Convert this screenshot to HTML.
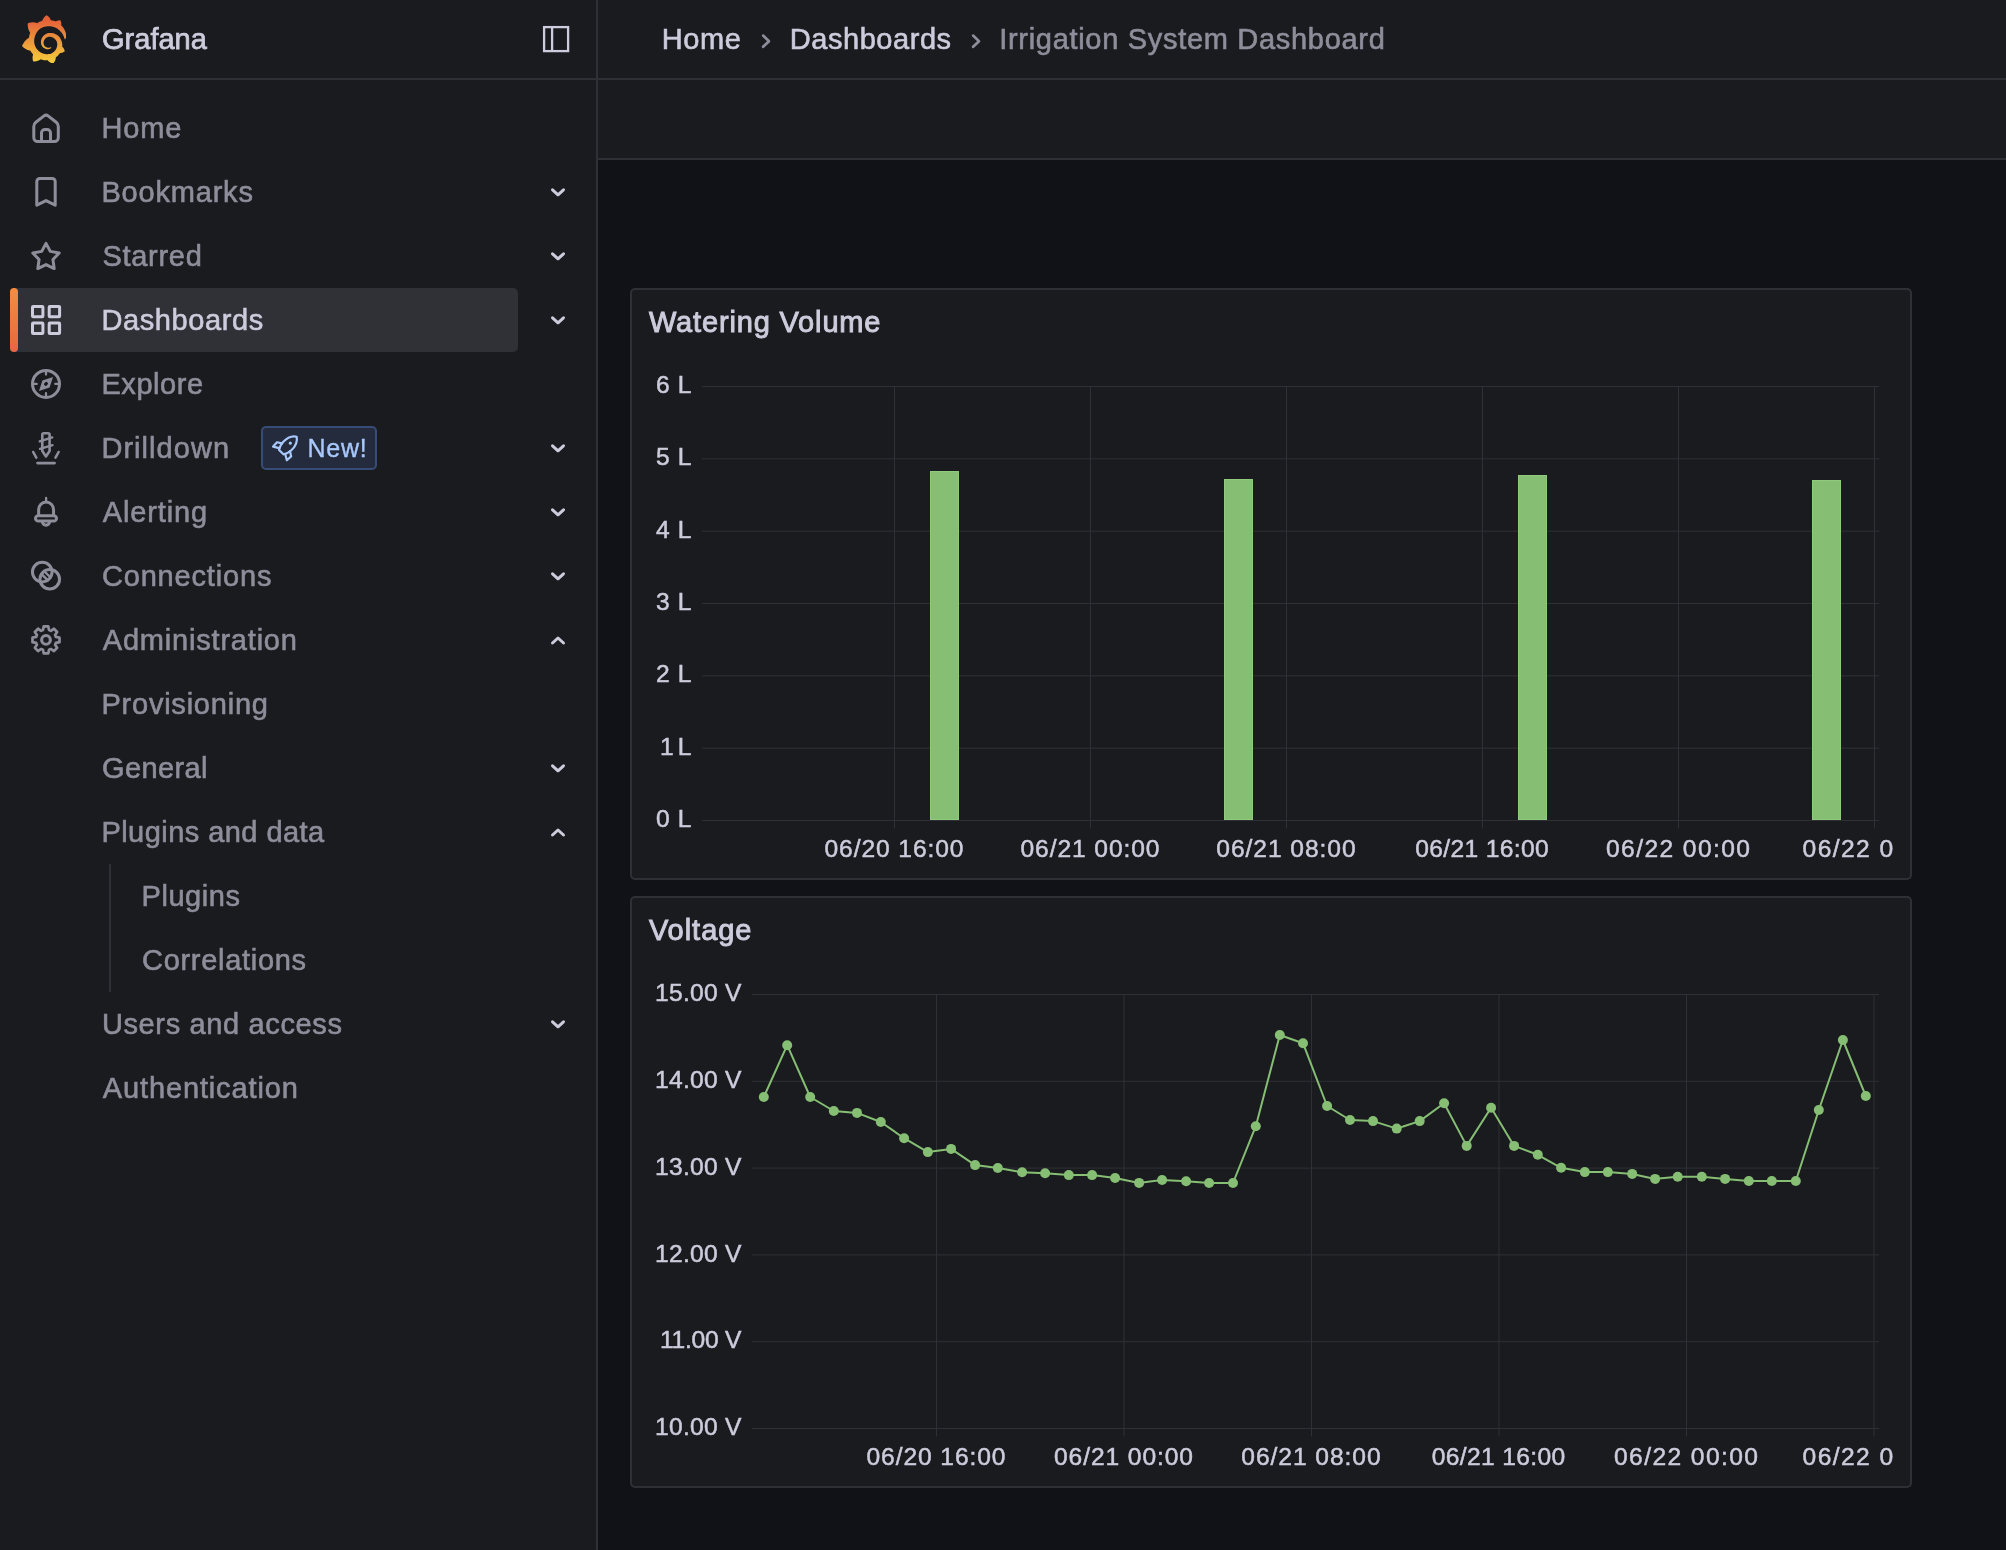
<!DOCTYPE html>
<html lang="en"><head><meta charset="utf-8"><title>Irrigation System Dashboard - Dashboards - Grafana</title>
<style>
html,body{margin:0;padding:0;}
body{width:2006px;height:1550px;overflow:hidden;position:relative;background:#111217;font-family:"Liberation Sans",sans-serif;}
.t{position:absolute;white-space:nowrap;margin:0;padding:0;font-weight:400;}
.ic{position:absolute;overflow:visible;}
.abs{position:absolute;}
#sidebar{position:absolute;left:0;top:0;width:596px;height:1550px;background:#1a1b1f;border-right:2px solid #2f3036;}
#topbar{position:absolute;left:598px;top:0;width:1408px;height:78px;background:#1a1b1f;}
#hline{position:absolute;left:0;top:78px;width:2006px;height:2px;background:#2f3036;}
#toolbar{position:absolute;left:598px;top:80px;width:1408px;height:78px;background:#1a1b1f;border-bottom:2px solid #2f3036;}
.panel{position:absolute;left:630px;width:1278px;height:588px;background:#1a1b1f;border:2px solid #2f3036;border-radius:5px;}
.active{position:absolute;left:10px;top:288px;width:508px;height:64px;background:#2f3137;border-radius:5px;}
.active:before{content:"";position:absolute;left:0;top:0;width:8px;height:64px;border-radius:4px;background:linear-gradient(180deg,#f28d45 0%,#e8663f 100%);}
.badge{position:absolute;left:261px;top:426px;width:112px;height:40px;border:2px solid #384c78;border-radius:5px;background:#232b3c;}
.sub{position:absolute;left:109px;top:864px;width:2px;height:128px;background:#2f3036;}
svg.chart{position:absolute;left:0;top:0;}
svg.chart .ax text{font-family:"Liberation Sans",sans-serif;font-size:24.6px;fill:#ccccdc;stroke:#ccccdc;stroke-width:0.5px;}
#app{position:absolute;left:0;top:0;width:2006px;height:1550px;will-change:transform;}
</style></head><body><div id="app">

<nav id="sidebar">
<div class="active"></div>
<svg class="abs" style="left:21.9px;top:14.85px" width="44.4" height="48.5" viewBox="0 0 342.2 374.3"><defs><linearGradient id="lg" x1="0" y1="0" x2="0" y2="1"><stop offset="0.1" stop-color="#e4613a"/><stop offset="1" stop-color="#f5cf3c"/></linearGradient></defs><path fill="url(#lg)" d="M342,161.2c-0.6-6.1-1.6-13.1-3.6-20.9c-2-7.7-5-16.2-9.4-25c-4.4-8.8-10.1-17.900-17.500-26.800c-2.900-3.500-6.100-6.900-9.500-10.200c5.100-20.300-6.200-37.900-6.200-37.900c-19.500-1.200-31.900,6.100-36.500,9.400c-0.800-0.300-1.500-0.700-2.300-1c-3.300-1.300-6.700-2.600-10.300-3.700c-3.500-1.100-7.100-2.100-10.800-3c-3.700-0.900-7.400-1.600-11.200-2.200c-0.700-0.100-1.300-0.200-2-0.300c-8.500-27.200-32.900-38.600-32.900-38.600c-27.300,17.300-32.400,41.500-32.400,41.500s-0.100,0.500-0.300,1.400c-1.500,0.400-3,0.900-4.500,1.300c-2.100,0.600-4.200,1.400-6.200,2.200c-2.100,0.800-4.100,1.600-6.200,2.500c-4.100,1.800-8.200,3.800-12.200,6c-3.900,2.200-7.700,4.600-11.400,7.100c-0.500-0.200-1-0.400-1-0.400c-37.800-14.400-71.300,2.900-71.300,2.900c-3.100,40.200,15.100,65.500,18.700,70.100c-0.900,2.500-1.700,5-2.500,7.500c-2.800,9.100-4.900,18.400-6.200,28.100c-0.200,1.400-0.400,2.800-0.500,4.200C18.800,192.700,0,238.300,0,238.300c29.100,33.500,63.100,35.600,63.100,35.600c0,0,0.100-0.100,0.100-0.100c4.300,7.700,9.300,15,14.900,21.900c2.400,2.900,4.800,5.600,7.400,8.300c-10.600,30.400,1.500,55.600,1.500,55.600c32.400,1.200,53.700-14.200,58.200-17.700c3.200,1.100,6.500,2.100,9.800,2.900c10,2.600,20.200,4.100,30.400,4.500c2.500,0.100,5.100,0.200,7.600,0.100l1.200,0l0.800,0l1.600,0l1.600-0.100l0,0.100c15.300,21.800,42.100,24.900,42.100,24.900c19.100-20.100,20.200-40.100,20.200-44.400l0,0c0,0,0-0.100,0-0.300c0-0.400,0-0.600,0-0.600l0,0c0-0.300,0-0.600,0-0.900c4-2.800,7.800-5.800,11.400-9.100c7.600-6.900,14.300-14.800,19.900-23.300c0.500-0.800,1-1.600,1.500-2.400c21.600,1.200,36.900-13.400,36.900-13.400c-3.600-22.500-16.400-33.500-19.100-35.600l0,0c0,0-0.100-0.100-0.300-0.200c-0.200-0.100-0.200-0.200-0.200-0.200c0,0,0,0,0,0c-0.100-0.100-0.300-0.200-0.500-0.300c0.100-1.400,0.200-2.700,0.300-4.100c0.200-2.400,0.200-4.900,0.200-7.300l0-1.800l0-0.900l0-0.500c0-0.600,0-0.400,0-0.600l-0.100-1.500l-0.100-2c0-0.700-0.100-1.300-0.200-1.900c-0.100-0.600-0.100-1.300-0.200-1.900l-0.200-1.900l-0.300-1.900c-0.400-2.500-0.800-4.900-1.400-7.400c-2.300-9.700-6.100-18.900-11-27.200c-5-8.300-11.200-15.600-18.300-21.800c-7-6.200-14.900-11.200-23.100-14.900c-8.300-3.700-16.900-6.100-25.500-7.200c-4.300-0.600-8.600-0.800-12.900-0.700l-1.600,0l-0.400,0c-0.100,0-0.600,0-0.500,0l-0.700,0l-1.600,0.100c-0.600,0-1.200,0.100-1.700,0.100c-2.200,0.200-4.400,0.500-6.500,0.900c-8.600,1.600-16.700,4.700-23.800,9c-7.100,4.300-13.300,9.600-18.300,15.600c-5,6-8.900,12.700-11.600,19.600c-2.700,6.900-4.200,14.100-4.600,21c-0.100,1.700-0.100,3.500-0.100,5.200c0,0.400,0,0.900,0,1.300l0.100,1.400c0.100,0.800,0.100,1.700,0.200,2.500c0.300,3.500,1,6.900,1.900,10.100c1.900,6.500,4.900,12.400,8.600,17.400c3.700,5,8.200,9.100,12.900,12.400c4.700,3.200,9.800,5.500,14.800,7c5,1.500,10,2.100,14.700,2.100c0.600,0,1.200,0,1.700,0c0.300,0,0.600,0,0.900,0c0.300,0,0.600,0,0.900-0.100c0.500,0,1-0.100,1.500-0.100c0.100,0,0.300,0,0.400-0.100l0.500-0.100c0.300,0,0.600-0.100,0.900-0.100c0.600-0.100,1.100-0.200,1.700-0.300c0.600-0.100,1.100-0.200,1.600-0.400c1.100-0.200,2.100-0.600,3.100-0.900c2-0.700,4-1.500,5.700-2.400c1.800-0.900,3.400-2,5-3c0.400-0.300,0.900-0.600,1.300-1c1.600-1.300,1.900-3.700,0.600-5.300c-1.100-1.400-3.100-1.800-4.700-0.900c-0.400,0.200-0.800,0.400-1.200,0.600c-1.400,0.700-2.800,1.300-4.300,1.800c-1.500,0.500-3.100,0.900-4.700,1.200c-0.800,0.100-1.600,0.200-2.500,0.300c-0.400,0-0.800,0.100-1.300,0.100c-0.400,0-0.900,0-1.200,0c-0.400,0-0.800,0-1.200,0c-0.500,0-1,0-1.500-0.100c0,0-0.300,0-0.100,0l-0.200,0l-0.300,0c-0.200,0-0.500,0-0.700-0.100c-0.500-0.100-0.900-0.100-1.400-0.200c-3.700-0.500-7.400-1.600-10.900-3.200c-3.600-1.600-7-3.800-10.100-6.600c-3.100-2.800-5.800-6.100-7.900-9.900c-2.100-3.800-3.600-8-4.300-12.400c-0.300-2.200-0.500-4.500-0.400-6.700c0-0.600,0.100-1.200,0.100-1.800c0,0.200,0-0.100,0-0.100l0-0.200l0-0.500c0-0.300,0.100-0.600,0.100-0.900c0.100-1.200,0.300-2.400,0.500-3.600c1.700-9.600,6.500-19,13.900-26.100c1.900-1.800,3.900-3.400,6-4.900c2.100-1.500,4.400-2.800,6.800-3.900c2.400-1.100,4.800-2,7.400-2.700c2.500-0.700,5.100-1.100,7.800-1.400c1.300-0.100,2.600-0.200,4-0.200c0.400,0,0.600,0,0.900,0l1.100,0l0.700,0c0.300,0,0,0,0.100,0l0.300,0l1.100,0.100c2.900,0.200,5.700,0.600,8.500,1.300c5.600,1.200,11.100,3.300,16.200,6.100c10.200,5.700,18.900,14.500,24.200,25.100c2.700,5.300,4.600,11,5.500,16.900c0.200,1.500,0.400,3,0.500,4.500l0.100,1.100l0.100,1.100c0,0.400,0,0.800,0,1.100c0,0.400,0,0.800,0,1.100l0,1l0,1.100c0,0.700-0.100,1.900-0.100,2.600c-0.100,1.600-0.300,3.300-0.500,4.900c-0.200,1.600-0.500,3.200-0.800,4.800c-0.300,1.600-0.700,3.200-1.100,4.700c-0.800,3.100-1.800,6.200-3,9.300c-2.400,6-5.600,11.800-9.400,17.100c-7.700,10.600-18.200,19.200-30.200,24.700c-6,2.700-12.300,4.700-18.800,5.700c-3.200,0.600-6.500,0.900-9.800,1l-0.600,0l-0.500,0l-1.100,0l-1.600,0l-0.800,0c0.400,0-0.100,0-0.100,0l-0.300,0c-1.800,0-3.500-0.100-5.300-0.300c-7-0.500-13.900-1.800-20.700-3.700c-6.700-1.900-13.200-4.600-19.400-7.800c-12.300-6.600-23.400-15.600-32-26.500c-4.300-5.400-8.100-11.300-11.200-17.400c-3.100-6.100-5.600-12.600-7.400-19.100c-1.800-6.600-2.900-13.300-3.400-20.100l-0.100-1.300l0-0.300l0-0.300l0-0.600l0-1.100l0-0.300l0-0.400l0-0.800l0-1.600l0-0.300c0,0,0,0.100,0-0.100l0-0.600c0-0.800,0-1.700,0-2.500c0.100-3.300,0.400-6.800,0.800-10.200c0.400-3.400,1-6.900,1.700-10.300c0.700-3.400,1.500-6.800,2.500-10.200c1.900-6.700,4.300-13.200,7.100-19.300c5.700-12.200,13.100-23.100,22-31.800c2.200-2.200,4.500-4.200,6.900-6.200c2.400-1.900,4.900-3.700,7.500-5.400c2.500-1.700,5.200-3.200,7.900-4.600c1.300-0.700,2.700-1.400,4.100-2c0.700-0.300,1.400-0.600,2.100-0.900c0.700-0.300,1.400-0.600,2.100-0.900c2.800-1.200,5.700-2.200,8.700-3.100c0.700-0.200,1.500-0.400,2.200-0.700c0.700-0.200,1.500-0.400,2.200-0.600c1.500-0.400,3-0.800,4.500-1.100c0.700-0.200,1.500-0.300,2.300-0.500c0.800-0.200,1.500-0.300,2.300-0.500c0.800-0.100,1.500-0.300,2.300-0.400l1.100-0.200l1.200-0.200c0.800-0.100,1.500-0.200,2.300-0.300c0.900-0.100,1.700-0.200,2.600-0.300c0.700-0.100,1.900-0.200,2.600-0.300c0.500-0.100,1.100-0.100,1.600-0.200l1.100-0.100l0.500-0.100l0.600,0c0.900-0.100,1.700-0.100,2.600-0.200l1.300-0.100c0,0,0.500,0,0.100,0l0.300,0l0.600,0c0.700,0,1.500-0.100,2.200-0.100c2.900-0.100,5.900-0.100,8.800,0c5.800,0.200,11.500,0.900,17,1.900c11.100,2.100,21.500,5.600,31,10.300c9.500,4.600,17.900,10.300,25.300,16.500c0.500,0.400,0.900,0.800,1.400,1.200c0.400,0.400,0.900,0.800,1.300,1.200c0.900,0.800,1.700,1.600,2.600,2.400c0.900,0.800,1.700,1.600,2.500,2.400c0.800,0.800,1.600,1.600,2.400,2.500c3.100,3.300,6,6.600,8.600,10c5.200,6.700,9.400,13.500,12.700,19.900c0.200,0.400,0.400,0.800,0.600,1.200c0.200,0.400,0.400,0.800,0.600,1.200c0.400,0.800,0.800,1.600,1.100,2.400c0.400,0.800,0.700,1.500,1.100,2.300c0.300,0.800,0.700,1.500,1,2.300c1.200,3,2.400,5.900,3.300,8.600c1.500,4.400,2.600,8.300,3.500,11.700c0.300,1.400,1.600,2.300,3,2.100c1.500-0.100,2.600-1.300,2.600-2.800C342.600,170.400,342.500,166.100,342,161.2z"/></svg>
<span class="t" style="left:102.02px;top:21.85px;font-size:29px;line-height:35px;letter-spacing:0.007px;color:#ccccdc;-webkit-text-stroke:0.75px #ccccdc;">Grafana</span>
<svg class="abs" style="left:540px;top:23px" width="32" height="32" viewBox="540 23 32 32" fill="none" stroke="#ccccdc" stroke-width="2.3"><rect x="544.1" y="27.1" width="24" height="24"/><path d="M552.1 27 V51"/></svg>
<svg class="ic" style="left:28px;top:110px" width="36" height="36" viewBox="0 0 36 36" fill="none" stroke="#8e8e9b" stroke-width="3" stroke-linecap="round" stroke-linejoin="round"><path d="M5.8 16.4 Q5.8 13.8 7.85 12.2 L16 5.9 Q18.05 4.3 20.1 5.9 L28.25 12.2 Q30.3 13.8 30.3 16.4 V27.5 a4 4 0 0 1 -4 4 H9.8 a4 4 0 0 1 -4 -4 Z"/><path d="M13.5 31.4 V22.9 a3.4 3.4 0 0 1 3.4-3.4 h2.2 a3.4 3.4 0 0 1 3.4 3.4 V31.4"/></svg>
<span class="t" style="left:101.43px;top:110.65px;font-size:29px;line-height:35px;letter-spacing:0.861px;color:#8e8e9b;-webkit-text-stroke:0.6px #8e8e9b;">Home</span>
<svg class="ic" style="left:28px;top:174px" width="36" height="36" viewBox="0 0 36 36" fill="none" stroke="#8e8e9b" stroke-width="3" stroke-linecap="round" stroke-linejoin="round"><path d="M8.8 31.2 V7.4 a3 3 0 0 1 3-3 H24.2 a3 3 0 0 1 3 3 V31.2 L18 26.6 Z"/></svg>
<span class="t" style="left:101.43px;top:174.65px;font-size:29px;line-height:35px;letter-spacing:0.804px;color:#8e8e9b;-webkit-text-stroke:0.6px #8e8e9b;">Bookmarks</span>
<svg class="ic" style="left:28px;top:238px" width="36" height="36" viewBox="0 0 36 36" fill="none" stroke="#8e8e9b" stroke-width="3" stroke-linecap="round" stroke-linejoin="round"><path d="M18.00,5.40 L22.29,13.39 L31.22,15.00 L24.94,21.56 L26.17,30.55 L18.00,26.60 L9.83,30.55 L11.06,21.56 L4.78,15.00 L13.71,13.39Z"/></svg>
<span class="t" style="left:102.39px;top:238.65px;font-size:29px;line-height:35px;letter-spacing:0.723px;color:#8e8e9b;-webkit-text-stroke:0.6px #8e8e9b;">Starred</span>
<svg class="ic" style="left:28px;top:302px" width="36" height="36" viewBox="0 0 36 36" fill="none" stroke="#ccccdc" stroke-width="3" stroke-linecap="round" stroke-linejoin="round"><rect x="4.5" y="4.4" width="10.4" height="10.4" rx="0.7"/><rect x="21.2" y="4.4" width="10.4" height="10.4" rx="0.7"/><rect x="4.5" y="21.1" width="10.4" height="10.4" rx="0.7"/><rect x="21.2" y="21.1" width="10.4" height="10.4" rx="0.7"/></svg>
<span class="t" style="left:101.43px;top:302.65px;font-size:29px;line-height:35px;letter-spacing:0.611px;color:#ccccdc;-webkit-text-stroke:0.6px #ccccdc;">Dashboards</span>
<svg class="ic" style="left:28px;top:366px" width="36" height="36" viewBox="0 0 36 36" fill="none" stroke="#8e8e9b" stroke-width="3" stroke-linecap="round" stroke-linejoin="round"><circle cx="18" cy="17.9" r="13.5"/><path stroke-width="2.3" d="M18 5 v3.6 M18 30.8 v-3.6 M5.1 17.9 h3.6 M30.9 17.9 h-3.6"/><path stroke="none" fill="#8e8e9b" fill-rule="evenodd" d="M25 10.9 L21.6 21.4 L11 24.9 L14.4 14.4 Z M19.3 16.6 a1.9 1.3 -45 1 0 -2.6 2.6 a1.9 1.3 -45 1 0 2.6 -2.6 Z"/></svg>
<span class="t" style="left:101.43px;top:366.65px;font-size:29px;line-height:35px;letter-spacing:0.569px;color:#8e8e9b;-webkit-text-stroke:0.6px #8e8e9b;">Explore</span>
<svg class="ic" style="left:28px;top:430px" width="36" height="36" viewBox="0 0 36 36" fill="none" stroke="#8e8e9b" stroke-width="3" stroke-linecap="round" stroke-linejoin="round"><path stroke-width="2.6" d="M14.3 21 V4.7 a1.5 1.5 0 0 1 1.5-1.5 h4.3 a1.5 1.5 0 0 1 1.5 1.5 V21 L17.95 26.5 Z"/><path stroke-width="2.3" d="M11.7 11.3 L24.3 7.4 M12 18.8 L24.5 15.1"/><path stroke-width="2.6" d="M5.2 22 L8.3 27.7 M30.6 22 L27.5 27.7 M9.5 33.1 H26.6"/></svg>
<span class="t" style="left:101.43px;top:430.65px;font-size:29px;line-height:35px;letter-spacing:1.042px;color:#8e8e9b;-webkit-text-stroke:0.6px #8e8e9b;">Drilldown</span>
<svg class="ic" style="left:28px;top:494px" width="36" height="36" viewBox="0 0 36 36" fill="none" stroke="#8e8e9b" stroke-width="3" stroke-linecap="round" stroke-linejoin="round"><path stroke-width="2.3" d="M18.1 4 V8"/><path d="M10.65 21.6 V15.5 a7.45 7.45 0 0 1 14.9 0 V21.6"/><rect x="7.5" y="21.7" width="21" height="5.4" rx="2.7"/><path d="M14.4 27.6 a3.6 3.6 0 0 0 7.2 0"/></svg>
<span class="t" style="left:102.80px;top:494.65px;font-size:29px;line-height:35px;letter-spacing:0.871px;color:#8e8e9b;-webkit-text-stroke:0.6px #8e8e9b;">Alerting</span>
<svg class="ic" style="left:28px;top:558px" width="36" height="36" viewBox="0 0 36 36" fill="none" stroke="#8e8e9b" stroke-width="3" stroke-linecap="round" stroke-linejoin="round"><circle cx="14.25" cy="14.1" r="9.8"/><circle cx="21.75" cy="21.25" r="9.8"/><path stroke-width="2.4" d="M16.4 13.3 L22.6 19.5 M13.6 16.1 L19.8 22.3"/></svg>
<span class="t" style="left:101.94px;top:558.65px;font-size:29px;line-height:35px;letter-spacing:0.825px;color:#8e8e9b;-webkit-text-stroke:0.6px #8e8e9b;">Connections</span>
<svg class="ic" style="left:28px;top:622px" width="36" height="36" viewBox="0 0 36 36" fill="none" stroke="#8e8e9b" stroke-width="3" stroke-linecap="round" stroke-linejoin="round"><path stroke-width="2.7" d="M14.99,8.05 L15.74,4.39 L20.26,4.39 L21.01,8.05 L22.84,8.81 L25.96,6.75 L29.15,9.94 L27.09,13.06 L27.85,14.89 L31.51,15.64 L31.51,20.16 L27.85,20.91 L27.09,22.74 L29.15,25.86 L25.96,29.05 L22.84,26.99 L21.01,27.75 L20.26,31.41 L15.74,31.41 L14.99,27.75 L13.16,26.99 L10.04,29.05 L6.85,25.86 L8.91,22.74 L8.15,20.91 L4.49,20.16 L4.49,15.64 L8.15,14.89 L8.91,13.06 L6.85,9.94 L10.04,6.75 L13.16,8.81Z"/><circle cx="18" cy="17.9" r="4.35" stroke-width="3.1"/></svg>
<span class="t" style="left:102.80px;top:622.65px;font-size:29px;line-height:35px;letter-spacing:0.799px;color:#8e8e9b;-webkit-text-stroke:0.6px #8e8e9b;">Administration</span>
<span class="t" style="left:101.43px;top:686.65px;font-size:29px;line-height:35px;letter-spacing:0.775px;color:#8e8e9b;-webkit-text-stroke:0.6px #8e8e9b;">Provisioning</span>
<span class="t" style="left:101.94px;top:750.65px;font-size:29px;line-height:35px;letter-spacing:0.400px;color:#8e8e9b;-webkit-text-stroke:0.6px #8e8e9b;">General</span>
<span class="t" style="left:101.43px;top:814.65px;font-size:29px;line-height:35px;letter-spacing:0.448px;color:#8e8e9b;-webkit-text-stroke:0.6px #8e8e9b;">Plugins and data</span>
<span class="t" style="left:141.53px;top:878.65px;font-size:29px;line-height:35px;letter-spacing:0.560px;color:#8e8e9b;-webkit-text-stroke:0.6px #8e8e9b;">Plugins</span>
<span class="t" style="left:142.04px;top:942.65px;font-size:29px;line-height:35px;letter-spacing:0.702px;color:#8e8e9b;-webkit-text-stroke:0.6px #8e8e9b;">Correlations</span>
<span class="t" style="left:101.89px;top:1006.65px;font-size:29px;line-height:35px;letter-spacing:0.642px;color:#8e8e9b;-webkit-text-stroke:0.6px #8e8e9b;">Users and access</span>
<span class="t" style="left:102.80px;top:1070.65px;font-size:29px;line-height:35px;letter-spacing:0.864px;color:#8e8e9b;-webkit-text-stroke:0.6px #8e8e9b;">Authentication</span>
<svg class="abs" style="left:0;top:0" width="596" height="1550" fill="none" stroke="#ccccdc" stroke-width="3" stroke-linecap="round" stroke-linejoin="round"><path d="M552.5 189.8 L558 194.8 L563.5 189.8"/><path d="M552.5 253.8 L558 258.8 L563.5 253.8"/><path d="M552.5 317.8 L558 322.8 L563.5 317.8"/><path d="M552.5 445.8 L558 450.8 L563.5 445.8"/><path d="M552.5 509.8 L558 514.8 L563.5 509.8"/><path d="M552.5 573.8 L558 578.8 L563.5 573.8"/><path d="M552.5 765.8 L558 770.8 L563.5 765.8"/><path d="M552.5 1021.8 L558 1026.8 L563.5 1021.8"/><path d="M552.5 643.0 L558 638.0 L563.5 643.0"/><path d="M552.5 835.0 L558 830.0 L563.5 835.0"/></svg>
<div class="badge"></div>
<svg class="abs" style="left:268px;top:430px" width="36" height="36" viewBox="268 430 36 36" fill="none" stroke="#a9c8fb" stroke-width="2.2" stroke-linecap="round" stroke-linejoin="round"><g transform="translate(287.9 445.5) rotate(45)"><path d="M0 -12.4 C4.4 -9.5 6 -4 5.8 1 C5.6 5 4.2 8 3.1 9.4 H-3.1 C-4.2 8 -5.6 5 -5.8 1 C-6 -4 -4.4 -9.5 0 -12.4 Z"/><path d="M-5.6 2.6 L-10 5.4 L-9.7 11.2 L-4.3 8 M5.6 2.6 L10 5.4 L9.7 11.2 L4.3 8"/><circle cx="0" cy="-3.4" r="1.6" fill="#a9c8fb" stroke="none"/></g></svg>
<span class="t" style="left:307.38px;top:432.54px;font-size:25px;line-height:30px;letter-spacing:0.779px;color:#a9c8fb;-webkit-text-stroke:0.35px #a9c8fb;">New!</span>
<div class="sub"></div>
</nav>
<header id="topbar"></header><div id="hline"></div><div id="toolbar"></div>
<span class="t" style="left:661.83px;top:21.85px;font-size:29px;line-height:35px;letter-spacing:0.595px;color:#ccccdc;-webkit-text-stroke:0.6px #ccccdc;">Home</span>
<span class="t" style="left:789.73px;top:21.85px;font-size:29px;line-height:35px;letter-spacing:0.556px;color:#ccccdc;-webkit-text-stroke:0.6px #ccccdc;">Dashboards</span>
<span class="t" style="left:999.23px;top:21.85px;font-size:29px;line-height:35px;letter-spacing:0.696px;color:#8e8e9b;-webkit-text-stroke:0.6px #8e8e9b;">Irrigation System Dashboard</span>
<svg class="abs" style="left:755px;top:28px" width="240" height="26" viewBox="755 28 240 26" fill="none" stroke="#8e8e9b" stroke-width="2.7" stroke-linecap="round" stroke-linejoin="round"><path d="M763.1 35.6 L769 41.2 L763.1 46.8 M973.1 35.6 L979 41.2 L973.1 46.8"/></svg>
<section class="panel" style="top:288px"></section><section class="panel" style="top:896px"></section>
<span class="t" style="left:648.88px;top:304.65px;font-size:29px;line-height:35px;letter-spacing:0.848px;color:#ccccdc;-webkit-text-stroke:0.95px #ccccdc;">Watering Volume</span>
<span class="t" style="left:648.88px;top:912.65px;font-size:29px;line-height:35px;letter-spacing:0.978px;color:#ccccdc;-webkit-text-stroke:0.95px #ccccdc;">Voltage</span>
<svg class="chart" width="2006" height="1550" viewBox="0 0 2006 1550"><g fill="#2e3035"><rect x="702" y="386.0" width="1177" height="1"/><rect x="702" y="458.3" width="1177" height="1"/><rect x="702" y="530.7" width="1177" height="1"/><rect x="702" y="603.0" width="1177" height="1"/><rect x="702" y="675.3" width="1177" height="1"/><rect x="702" y="747.7" width="1177" height="1"/><rect x="702" y="820.0" width="1177" height="1"/><rect x="894.0" y="386.0" width="1" height="442.5"/><rect x="1090.0" y="386.0" width="1" height="442.5"/><rect x="1286.0" y="386.0" width="1" height="442.5"/><rect x="1482.0" y="386.0" width="1" height="442.5"/><rect x="1678.0" y="386.0" width="1" height="442.5"/><rect x="1874.0" y="386.0" width="1" height="442.5"/></g><rect x="930.5" y="471.5" width="28" height="348" fill="#86be74" stroke="#90cb7d" stroke-width="1"/><rect x="1224.5" y="479.5" width="28" height="340" fill="#86be74" stroke="#90cb7d" stroke-width="1"/><rect x="1518.5" y="475.5" width="28" height="344" fill="#86be74" stroke="#90cb7d" stroke-width="1"/><rect x="1812.5" y="480.5" width="28" height="339" fill="#86be74" stroke="#90cb7d" stroke-width="1"/><g class="ax"><text x="691.4" y="393.1" text-anchor="end" textLength="35.3" lengthAdjust="spacing">6 L</text><text x="691.4" y="465.4" text-anchor="end" textLength="35.3" lengthAdjust="spacing">5 L</text><text x="691.4" y="537.8" text-anchor="end" textLength="35.3" lengthAdjust="spacing">4 L</text><text x="691.4" y="610.1" text-anchor="end" textLength="35.3" lengthAdjust="spacing">3 L</text><text x="691.4" y="682.4" text-anchor="end" textLength="35.3" lengthAdjust="spacing">2 L</text><text x="691.4" y="754.8" text-anchor="end" textLength="31.5" lengthAdjust="spacing">1 L</text><text x="691.4" y="827.1" text-anchor="end" textLength="35.3" lengthAdjust="spacing">0 L</text><text x="894.0" y="857.0" text-anchor="middle" textLength="139.0" lengthAdjust="spacing">06/20 16:00</text><text x="1090.0" y="857.0" text-anchor="middle" textLength="139.0" lengthAdjust="spacing">06/21 00:00</text><text x="1286.0" y="857.0" text-anchor="middle" textLength="139.3" lengthAdjust="spacing">06/21 08:00</text><text x="1482.0" y="857.0" text-anchor="middle" textLength="133.4" lengthAdjust="spacing">06/21 16:00</text><text x="1678.0" y="857.0" text-anchor="middle" textLength="144.0" lengthAdjust="spacing">06/22 00:00</text><text x="1802.6" y="857.0" textLength="90.5" lengthAdjust="spacing">06/22 0</text></g><g fill="#2e3035"><rect x="752" y="994.0" width="1127" height="1"/><rect x="752" y="1080.8" width="1127" height="1"/><rect x="752" y="1167.6" width="1127" height="1"/><rect x="752" y="1254.4" width="1127" height="1"/><rect x="752" y="1341.2" width="1127" height="1"/><rect x="752" y="1428.0" width="1127" height="1"/><rect x="936.0" y="994.0" width="1" height="442.5"/><rect x="1123.5" y="994.0" width="1" height="442.5"/><rect x="1311.0" y="994.0" width="1" height="442.5"/><rect x="1498.5" y="994.0" width="1" height="442.5"/><rect x="1686.0" y="994.0" width="1" height="442.5"/><rect x="1873.5" y="994.0" width="1" height="442.5"/></g><polyline fill="none" stroke="#86be74" stroke-width="2" stroke-linejoin="round" points="763.8,1097.0 787.2,1045.2 810.2,1097.0 833.8,1111.0 857.0,1112.9 880.8,1122.0 904.1,1138.2 927.8,1152.1 951.1,1148.9 975.1,1165.1 997.8,1168.0 1022.1,1172.2 1045.1,1173.2 1068.8,1175.1 1092.1,1175.1 1115.1,1178.0 1139.1,1182.9 1162.1,1180.0 1186.1,1181.3 1209.1,1183.0 1233.0,1183.0 1255.8,1126.2 1279.8,1035.0 1303.0,1043.2 1327.1,1106.0 1350.0,1120.0 1373.0,1121.1 1396.7,1128.6 1419.7,1121.1 1444.1,1103.2 1466.7,1145.9 1491.1,1107.8 1514.1,1145.9 1537.8,1154.8 1561.1,1167.8 1584.8,1172.1 1607.8,1172.1 1632.2,1173.9 1655.1,1178.9 1677.7,1176.7 1701.8,1176.7 1725.1,1178.9 1748.8,1181.0 1771.8,1181.0 1795.8,1181.0 1818.8,1110.0 1842.9,1040.0 1865.8,1096.0"/><g fill="#86be74"><circle cx="763.8" cy="1097.0" r="5"/><circle cx="787.2" cy="1045.2" r="5"/><circle cx="810.2" cy="1097.0" r="5"/><circle cx="833.8" cy="1111.0" r="5"/><circle cx="857.0" cy="1112.9" r="5"/><circle cx="880.8" cy="1122.0" r="5"/><circle cx="904.1" cy="1138.2" r="5"/><circle cx="927.8" cy="1152.1" r="5"/><circle cx="951.1" cy="1148.9" r="5"/><circle cx="975.1" cy="1165.1" r="5"/><circle cx="997.8" cy="1168.0" r="5"/><circle cx="1022.1" cy="1172.2" r="5"/><circle cx="1045.1" cy="1173.2" r="5"/><circle cx="1068.8" cy="1175.1" r="5"/><circle cx="1092.1" cy="1175.1" r="5"/><circle cx="1115.1" cy="1178.0" r="5"/><circle cx="1139.1" cy="1182.9" r="5"/><circle cx="1162.1" cy="1180.0" r="5"/><circle cx="1186.1" cy="1181.3" r="5"/><circle cx="1209.1" cy="1183.0" r="5"/><circle cx="1233.0" cy="1183.0" r="5"/><circle cx="1255.8" cy="1126.2" r="5"/><circle cx="1279.8" cy="1035.0" r="5"/><circle cx="1303.0" cy="1043.2" r="5"/><circle cx="1327.1" cy="1106.0" r="5"/><circle cx="1350.0" cy="1120.0" r="5"/><circle cx="1373.0" cy="1121.1" r="5"/><circle cx="1396.7" cy="1128.6" r="5"/><circle cx="1419.7" cy="1121.1" r="5"/><circle cx="1444.1" cy="1103.2" r="5"/><circle cx="1466.7" cy="1145.9" r="5"/><circle cx="1491.1" cy="1107.8" r="5"/><circle cx="1514.1" cy="1145.9" r="5"/><circle cx="1537.8" cy="1154.8" r="5"/><circle cx="1561.1" cy="1167.8" r="5"/><circle cx="1584.8" cy="1172.1" r="5"/><circle cx="1607.8" cy="1172.1" r="5"/><circle cx="1632.2" cy="1173.9" r="5"/><circle cx="1655.1" cy="1178.9" r="5"/><circle cx="1677.7" cy="1176.7" r="5"/><circle cx="1701.8" cy="1176.7" r="5"/><circle cx="1725.1" cy="1178.9" r="5"/><circle cx="1748.8" cy="1181.0" r="5"/><circle cx="1771.8" cy="1181.0" r="5"/><circle cx="1795.8" cy="1181.0" r="5"/><circle cx="1818.8" cy="1110.0" r="5"/><circle cx="1842.9" cy="1040.0" r="5"/><circle cx="1865.8" cy="1096.0" r="5"/></g><g class="ax"><text x="741.4" y="1001.1" text-anchor="end" textLength="86.3" lengthAdjust="spacing">15.00 V</text><text x="741.4" y="1087.9" text-anchor="end" textLength="86.3" lengthAdjust="spacing">14.00 V</text><text x="741.4" y="1174.7" text-anchor="end" textLength="86.3" lengthAdjust="spacing">13.00 V</text><text x="741.4" y="1261.5" text-anchor="end" textLength="86.3" lengthAdjust="spacing">12.00 V</text><text x="741.4" y="1348.3" text-anchor="end" textLength="81.5" lengthAdjust="spacing">11.00 V</text><text x="741.4" y="1435.1" text-anchor="end" textLength="86.3" lengthAdjust="spacing">10.00 V</text><text x="936.0" y="1464.6" text-anchor="middle" textLength="139.0" lengthAdjust="spacing">06/20 16:00</text><text x="1123.5" y="1464.6" text-anchor="middle" textLength="139.0" lengthAdjust="spacing">06/21 00:00</text><text x="1311.0" y="1464.6" text-anchor="middle" textLength="139.3" lengthAdjust="spacing">06/21 08:00</text><text x="1498.5" y="1464.6" text-anchor="middle" textLength="133.4" lengthAdjust="spacing">06/21 16:00</text><text x="1686.0" y="1464.6" text-anchor="middle" textLength="144.0" lengthAdjust="spacing">06/22 00:00</text><text x="1802.6" y="1464.6" textLength="90.5" lengthAdjust="spacing">06/22 0</text></g></svg>
</div></body></html>
